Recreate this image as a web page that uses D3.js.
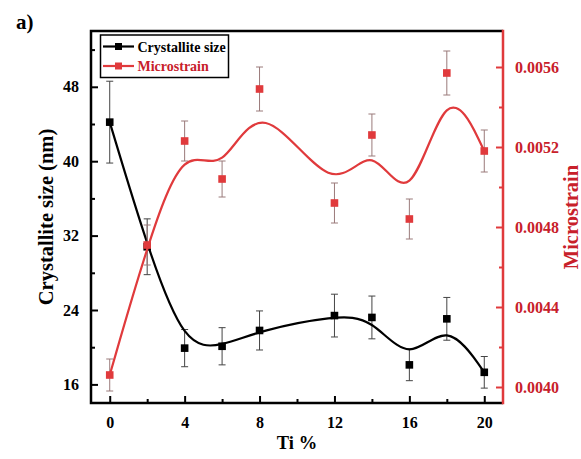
<!DOCTYPE html>
<html>
<head>
<meta charset="utf-8">
<script src="https://cdn.jsdelivr.net/npm/d3@7/dist/d3.min.js"></script>
<style>
  html, body { margin: 0; padding: 0; background: #fff; }
  svg { display: block; }
  text { font-family: "Liberation Serif", "Times New Roman", serif; font-weight: bold; }
</style>
</head>
<body>
<svg id="chart" width="581" height="459"></svg>
<script>
// Ti content (%)
const tiPercent = [0, 2, 4, 6, 8, 12, 14, 16, 18, 20];
// Crystallite size (nm) and its error
const crystalliteSize = [44.2, 30.8, 19.9, 20.1, 21.8, 23.4, 23.2, 18.1, 23.05, 17.3];
const crystalliteErr  = [4.4, 3.0, 2.0, 2.0, 2.1, 2.3, 2.3, 1.7, 2.3, 1.7];
// Microstrain and its error
const microstrain    = [0.00406, 0.00471, 0.00523, 0.00504, 0.00549, 0.00492, 0.00526, 0.00484, 0.00557, 0.00518];
const microstrainErr = [0.00008, 0.0001, 0.0001, 0.00009, 0.00011, 0.0001, 0.000105, 0.0001, 0.00011, 0.000105];

// Tick labels
const xTicks = [0, 4, 8, 12, 16, 20];
const xMinor = [2, 6, 10, 14, 18];
const leftTicks = [16, 24, 32, 40, 48];
const leftMinor = [20, 28, 36, 44, 52];
const rightTicks = [0.0040, 0.0044, 0.0048, 0.0052, 0.0056];
const rightMinor = [0.0042, 0.0046, 0.0050, 0.0054];

const BLACK = "#000";
const RED = "#e03a3c";
const RED_TEXT = "#c8202a";

const svg = d3.select("#chart");
const plot = { left: 91, right: 503, top: 31, bottom: 403 };

const x = d3.scaleLinear().domain([-1, 21]).range([plot.left, plot.right]);
const yL = d3.scaleLinear().domain([14, 54]).range([plot.bottom, plot.top]);
const yR = d3.scaleLinear().domain([0.00392, 0.00578]).range([plot.bottom, plot.top]);

// Axes (ticks point inward)
const xAxis = svg.append("g").attr("transform", `translate(0,${plot.bottom})`)
  .call(d3.axisBottom(x).tickValues(xTicks).tickSizeInner(-7).tickSizeOuter(0).tickPadding(14).tickFormat(d3.format("d")));
svg.append("g").attr("transform", `translate(0,${plot.bottom})`)
  .call(d3.axisBottom(x).tickValues(xMinor).tickSizeInner(-4).tickSizeOuter(0).tickFormat(""));

const yAxisL = svg.append("g").attr("transform", `translate(${plot.left},0)`)
  .call(d3.axisLeft(yL).tickValues(leftTicks).tickSizeInner(-7).tickSizeOuter(0).tickPadding(12).tickFormat(d3.format("d")));
svg.append("g").attr("transform", `translate(${plot.left},0)`)
  .call(d3.axisLeft(yL).tickValues(leftMinor).tickSizeInner(-4).tickSizeOuter(0).tickFormat(""));

const yAxisR = svg.append("g").attr("class", "right-axis").attr("transform", `translate(${plot.right},0)`)
  .call(d3.axisRight(yR).tickValues(rightTicks).tickSizeInner(-7).tickSizeOuter(0).tickPadding(12).tickFormat(d3.format(".4f")));
svg.append("g").attr("class", "right-axis").attr("transform", `translate(${plot.right},0)`)
  .call(d3.axisRight(yR).tickValues(rightMinor).tickSizeInner(-4).tickSizeOuter(0).tickFormat(""));

svg.selectAll("g .domain").remove();
svg.selectAll("g .tick line").attr("stroke-width", 2);
svg.selectAll("g text").attr("font-size", 16).attr("font-family", "Liberation Serif, serif").attr("font-weight", "bold");
yAxisR.selectAll("text").attr("fill", RED_TEXT);
svg.selectAll("g.right-axis line").attr("stroke", RED);

// Frame
svg.append("path")
  .attr("d", `M${plot.right},${plot.top}H${plot.left}V${plot.bottom}H${plot.right}`)
  .attr("fill", "none").attr("stroke", BLACK).attr("stroke-width", 2.5);
svg.append("line")
  .attr("x1", plot.right).attr("x2", plot.right).attr("y1", plot.top - 1.2).attr("y2", plot.bottom + 1.2)
  .attr("stroke", RED).attr("stroke-width", 2.5);

// Series: error bars, B-spline connection, square markers
function drawSeries(vals, errs, yScale, color, errColor) {
  const pts = tiPercent.map((t, i) => ({ t, v: vals[i], e: errs[i] }));
  const g = svg.append("g");
  const eb = g.append("g").attr("stroke", errColor).attr("stroke-width", 1).attr("fill", "none");
  pts.forEach(p => {
    const cx = x(p.t), y1 = yScale(p.v + p.e), y2 = yScale(p.v - p.e);
    eb.append("path").attr("d", `M${cx},${y1}V${y2}M${cx - 3.5},${y1}H${cx + 3.5}M${cx - 3.5},${y2}H${cx + 3.5}`);
  });
  g.append("path")
    .datum(pts)
    .attr("fill", "none").attr("stroke", color).attr("stroke-width", 2.2)
    .attr("d", d3.line().x(p => x(p.t)).y(p => yScale(p.v)).curve(d3.curveBasis));
  g.selectAll("rect.m").data(pts).join("rect")
    .attr("x", p => x(p.t) - 3.8).attr("y", p => yScale(p.v) - 3.8)
    .attr("width", 7.6).attr("height", 7.6).attr("fill", color);
}

drawSeries(crystalliteSize, crystalliteErr, yL, BLACK, "#444");
drawSeries(microstrain, microstrainErr, yR, RED, "#9a7a7a");

// Legend
const legend = svg.append("g");
legend.append("rect").attr("x", 100.5).attr("y", 35).attr("width", 128).attr("height", 42.5)
  .attr("fill", "#fff").attr("stroke", BLACK).attr("stroke-width", 1.5);
const legendItems = [
  { label: "Crystallite size", color: BLACK, textColor: BLACK, y: 46.5 },
  { label: "Microstrain", color: RED, textColor: RED_TEXT, y: 66 }
];
legendItems.forEach(item => {
  legend.append("line").attr("x1", 103).attr("x2", 134).attr("y1", item.y).attr("y2", item.y)
    .attr("stroke", item.color).attr("stroke-width", 2.2);
  legend.append("rect").attr("x", 118.5 - 3.5).attr("y", item.y - 3.5).attr("width", 7).attr("height", 7)
    .attr("fill", item.color);
  legend.append("text").attr("x", 137.5).attr("y", item.y + 5).attr("font-size", 14)
    .attr("fill", item.textColor).text(item.label);
});

// Axis titles
svg.append("text").attr("x", (plot.left + plot.right) / 2).attr("y", 449)
  .attr("text-anchor", "middle").attr("font-size", 18.5).attr("fill", BLACK).text("Ti %");
svg.append("text").attr("transform", `translate(53,${(plot.top + plot.bottom) / 2}) rotate(-90)`)
  .attr("text-anchor", "middle").attr("font-size", 20.5).attr("fill", BLACK).text("Crystallite size (nm)");
svg.append("text").attr("transform", `translate(578,${(plot.top + plot.bottom) / 2}) rotate(-90)`)
  .attr("text-anchor", "middle").attr("font-size", 20.5).attr("fill", RED_TEXT).text("Microstrain");

// Panel label
svg.append("text").attr("x", 16).attr("y", 29).attr("font-size", 21).attr("fill", BLACK).text("a)");
</script>
</body>
</html>
